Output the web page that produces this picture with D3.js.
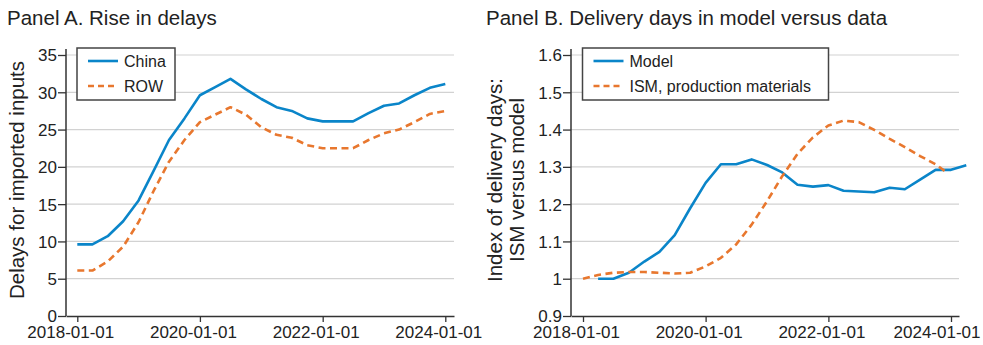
<!DOCTYPE html>
<html>
<head>
<meta charset="utf-8">
<script src="https://cdn.jsdelivr.net/npm/d3@7"></script>
<style>
  html, body { margin: 0; padding: 0; background: #fff; }
  svg { display: block; font-family: "Liberation Sans", Arial, sans-serif; }
</style>
</head>
<body>
<div id="chart"></div>
<script>
const width = 983;
const height = 345;

// Panel A: quarterly delays for imported inputs
const panelADates = ["2018-01-01","2018-04-01","2018-07-01","2018-10-01","2019-01-01","2019-04-01","2019-07-01","2019-10-01",
  "2020-01-01","2020-04-01","2020-07-01","2020-10-01","2021-01-01","2021-04-01","2021-07-01","2021-10-01",
  "2022-01-01","2022-04-01","2022-07-01","2022-10-01","2023-01-01","2023-04-01","2023-07-01","2023-10-01","2024-01-01"];
const chinaDelays = [9.6, 9.6, 10.7, 12.7, 15.5, 19.5, 23.6, 26.5, 29.6, 30.7, 31.8, 30.4, 29.1,
  28.0, 27.5, 26.5, 26.1, 26.1, 26.1, 27.2, 28.2, 28.5, 29.6, 30.6, 31.1];
const rowDelays = [6.1, 6.1, 7.3, 9.3, 12.6, 16.8, 20.7, 23.6, 26.0, 27.0, 28.0, 27.0, 25.3,
  24.3, 23.9, 22.9, 22.5, 22.5, 22.5, 23.6, 24.5, 25.0, 26.0, 27.1, 27.5];

// Panel B: delivery days index
const modelDates = ["2018-04-01","2018-07-01","2018-10-01","2019-01-01","2019-04-01","2019-07-01","2019-10-01",
  "2020-01-01","2020-04-01","2020-07-01","2020-10-01","2021-01-01","2021-04-01","2021-07-01","2021-10-01",
  "2022-01-01","2022-04-01","2022-07-01","2022-10-01","2023-01-01","2023-04-01","2023-07-01","2023-10-01","2024-01-01","2024-04-01"];
const modelDays = [1.0, 1.0, 1.016, 1.046, 1.072, 1.117, 1.189, 1.257, 1.307, 1.307, 1.320, 1.305, 1.285,
  1.252, 1.247, 1.251, 1.236, 1.234, 1.232, 1.244, 1.240, 1.266, 1.292, 1.292, 1.304];
const ismDates = ["2018-01-01","2018-04-01","2018-07-01","2018-10-01","2019-01-01","2019-04-01","2019-07-01","2019-10-01",
  "2020-01-01","2020-04-01","2020-07-01","2020-10-01","2021-01-01","2021-04-01","2021-07-01","2021-10-01",
  "2022-01-01","2022-04-01","2022-07-01","2022-10-01","2023-01-01","2023-04-01","2023-07-01","2023-10-01","2023-12-01"];
const ismDays = [1.000, 1.010, 1.016, 1.018, 1.018, 1.016, 1.014, 1.016, 1.033, 1.056, 1.092, 1.145, 1.208,
  1.275, 1.335, 1.379, 1.411, 1.424, 1.420, 1.399, 1.375, 1.353, 1.329, 1.307, 1.287];

const xTickDates = ["2018-01-01", "2020-01-01", "2022-01-01", "2024-01-01"];
const yTicksA = [0, 5, 10, 15, 20, 25, 30, 35];
const yTicksB = [0.9, 1.0, 1.1, 1.2, 1.3, 1.4, 1.5, 1.6];

const blue = "#0a85c9";
const orange = "#e8772e";
const parse = d3.timeParse("%Y-%m-%d");

const svg = d3.select("#chart").append("svg")
  .attr("width", width)
  .attr("height", height);

function drawPanel(opts) {
  const g = svg.append("g");
  const left = opts.left, right = opts.left + 388, top = 49, bottom = 316;

  // x: place 2018-01-01 and 2024-01-01 at the tick positions, axis runs a bit wider
  const x = d3.scaleTime()
    .domain([parse("2018-01-01"), parse("2024-01-01")])
    .range([left + opts.pad, left + opts.pad + 368]);
  x.domain([x.invert(left), x.invert(right)]).range([left, right]);

  const y = d3.scaleLinear()
    .domain([opts.yTicks[0], opts.yTicks[opts.yTicks.length - 1]])
    .range([bottom, 55]);

  // gridlines
  g.append("g")
    .selectAll("line")
    .data(opts.yTicks.slice(1))
    .join("line")
      .attr("x1", left).attr("x2", right)
      .attr("y1", d => y(d)).attr("y2", d => y(d))
      .attr("stroke", "#d2d2d2")
      .attr("stroke-width", 1.2);

  // axes
  const yAxis = g.append("g")
    .attr("transform", `translate(${left},0)`)
    .call(d3.axisLeft(y).tickValues(opts.yTicks).tickFormat(opts.fmt).tickSize(8).tickSizeOuter(0));
  yAxis.select(".domain").attr("d", `M0,${top}V${bottom}`);

  const xAxis = g.append("g")
    .attr("transform", `translate(0,${bottom})`)
    .call(d3.axisBottom(x).tickValues(xTickDates.map(parse)).tickFormat(d3.timeFormat("%Y-%m-%d")).tickSize(6).tickSizeOuter(0));

  [yAxis, xAxis].forEach(ax => {
    ax.selectAll(".domain").attr("stroke", "#333").attr("stroke-width", 1.5);
    ax.selectAll(".tick line").attr("stroke", "#333").attr("stroke-width", 1.3);
    ax.selectAll("text").attr("fill", "#222").style("font-size", "17px")
      .style("font-family", "Liberation Sans, Arial, sans-serif");
  });
  yAxis.selectAll("text").attr("x", -9).attr("dy", "0.35em");
  // labels sit slightly left of their ticks, as in the original; keep the last one inside the figure
  xAxis.selectAll(".tick text")
    .attr("y", 10).attr("dy", "0.71em")
    .attr("x", function(d) {
      const half = this.getComputedTextLength() / 2;
      const shift = -7;
      const over = x(d) + shift + half - (width - 3);
      return over > 0 ? shift - over : shift;
    });

  // series
  const line = d3.line()
    .x(d => x(d.date))
    .y(d => y(d.value));

  opts.series.forEach(s => {
    const pts = s.dates.map((d, i) => ({ date: parse(d), value: s.values[i] }));
    g.append("path")
      .datum(pts)
      .attr("fill", "none")
      .attr("stroke", s.color)
      .attr("stroke-width", 2.6)
      .attr("stroke-linejoin", "round")
      .attr("stroke-dasharray", s.dashed ? "7,4.5" : null)
      .attr("d", line);
  });

  // panel title
  g.append("text")
    .attr("x", opts.titleX)
    .attr("y", 25)
    .attr("fill", "#222")
    .style("font-size", "20.5px")
    .text(opts.title);

  // y label
  const yl = g.append("text")
    .attr("transform", `translate(${opts.labelX},180) rotate(-90)`)
    .attr("text-anchor", "middle")
    .attr("fill", "#222")
    .style("font-size", "20.5px");
  opts.yLabel.forEach((t, i) => {
    yl.append("tspan")
      .attr("x", 0)
      .attr("y", (i - (opts.yLabel.length - 1) / 2) * 21.5)
      .attr("dy", "0.35em")
      .text(t);
  });

  // legend
  const lg = g.append("g").attr("transform", `translate(${left + opts.legendX},48)`);
  lg.append("rect")
    .attr("width", opts.legendW)
    .attr("height", 52)
    .attr("fill", "#fff")
    .attr("stroke", "#444")
    .attr("stroke-width", 1.5);
  opts.series.forEach((s, i) => {
    const cy = 13 + i * 25;
    lg.append("line")
      .attr("x1", 11).attr("x2", 41)
      .attr("y1", cy).attr("y2", cy)
      .attr("stroke", s.color)
      .attr("stroke-width", 2.6)
      .attr("stroke-dasharray", s.dashed ? "6,4" : null);
    lg.append("text")
      .attr("x", 47)
      .attr("y", cy)
      .attr("dy", "0.35em")
      .attr("fill", "#222")
      .style("font-size", "16px")
      .text(s.name);
  });
}

drawPanel({
  left: 66, pad: 11.3,
  yTicks: yTicksA, fmt: d3.format("d"),
  title: "Panel A. Rise in delays", titleX: 7,
  yLabel: ["Delays for imported inputs"], labelX: 17,
  legendX: 11, legendW: 98,
  series: [
    { name: "China", dates: panelADates, values: chinaDelays, color: blue, dashed: false },
    { name: "ROW", dates: panelADates, values: rowDelays, color: orange, dashed: true }
  ]
});

drawPanel({
  left: 571, pad: 12,
  yTicks: yTicksB, fmt: d3.format(".1~f"),
  title: "Panel B. Delivery days in model versus data", titleX: 486,
  yLabel: ["Index of delivery days:", "ISM versus model"], labelX: 506,
  legendX: 11.5, legendW: 246,
  series: [
    { name: "Model", dates: modelDates, values: modelDays, color: blue, dashed: false },
    { name: "ISM, production materials", dates: ismDates, values: ismDays, color: orange, dashed: true }
  ]
});
</script>
</body>
</html>
